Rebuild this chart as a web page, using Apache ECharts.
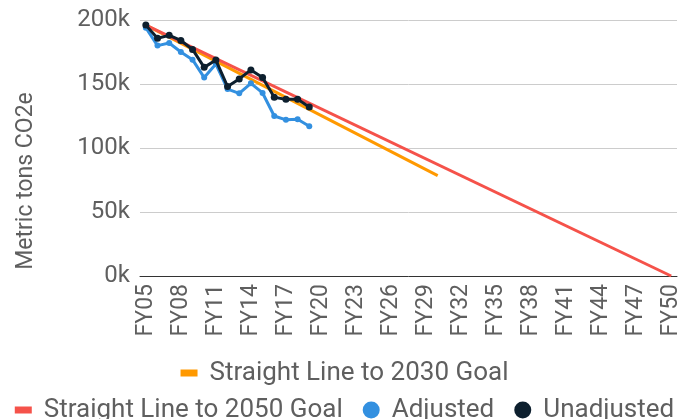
<!DOCTYPE html>
<html>
<head>
<meta charset="utf-8">
<script src="https://cdn.jsdelivr.net/npm/echarts@6/dist/echarts.min.js"></script>
<style>
  html, body { margin: 0; padding: 0; background: #fff; }
  #chart { width: 689px; height: 419px; }
</style>
</head>
<body>
<div id="chart"></div>
<script>
// 年份类目 FY05 - FY50
const categories = ['FY05','FY06','FY07','FY08','FY09','FY10','FY11','FY12','FY13','FY14',
    'FY15','FY16','FY17','FY18','FY19','FY20','FY21','FY22','FY23','FY24',
    'FY25','FY26','FY27','FY28','FY29','FY30','FY31','FY32','FY33','FY34',
    'FY35','FY36','FY37','FY38','FY39','FY40','FY41','FY42','FY43','FY44',
    'FY45','FY46','FY47','FY48','FY49','FY50'];

// 实测数据 FY05 - FY19
const adjusted = [194000, 180000, 182000, 175000, 169000, 155000, 165600, 146000,
    142700, 150500, 143000, 125000, 122000, 122400, 117000];
const unadjusted = [196000, 185700, 188000, 184000, 177000, 163000, 168700, 148000,
    154000, 161000, 155000, 139600, 138000, 138000, 132000];

// 目标直线：只给端点 [类目, 数值]
const goal2030 = [['FY05', 196000], ['FY30', 78400]];
const goal2050 = [['FY05', 196000], ['FY50', 0]];

const yTicks = [0, 50000, 100000, 150000, 200000];

// 端点放进类目数组，其余为空，用 connectNulls 连成直线
function endpoints(pts) {
    let arr = categories.map(() => null);
    pts.forEach((p) => { arr[categories.indexOf(p[0])] = p[1]; });
    return arr;
}

const txt = '#5f5f5f';
const font = 'Roboto';
// 细长方形图标（外面留出透明边界，保持和圆点同样的框）
const barIcon = 'path://M0,0 M17,17 M0,5 L17,5 L17,12 L0,12 Z';

let chart = echarts.init(document.getElementById('chart'), null, { renderer: 'canvas' });

let option = {
    animation: false,
    textStyle: { fontFamily: font },
    grid: { left: 140, right: 12, top: 20, bottom: 143, containLabel: false },
    // y 轴标题，单独放，方便对齐
    graphic: [
        {
            type: 'text',
            x: 26,
            y: 181,
            rotation: Math.PI / 2,
            style: {
                text: 'Metric tons CO2e',
                fill: txt,
                font: '23px Roboto',
                align: 'center',
                verticalAlign: 'middle'
            }
        }
    ],
    legend: [
        {
            data: [{ name: 'Straight Line to 2030 Goal', icon: barIcon }],
            left: 'center',
            top: 355,
            itemWidth: 17,
            itemHeight: 17,
            textStyle: { color: txt, fontSize: 26, fontFamily: font, padding: [0, 0, 0, 7] }
        },
        {
            data: [
                { name: 'Straight Line to 2050 Goal', icon: barIcon },
                { name: 'Adjusted', icon: 'circle' },
                { name: 'Unadjusted', icon: 'circle' }
            ],
            left: 'center',
            top: 392,
            itemGap: 20,
            itemWidth: 17,
            itemHeight: 17,
            textStyle: { color: txt, fontSize: 26, fontFamily: font, padding: [0, 0, 0, 7] }
        }
    ],
    xAxis: {
        type: 'category',
        data: categories,
        boundaryGap: true,
        axisLine: { lineStyle: { color: '#333', width: 1 } },
        axisTick: { show: false },
        axisLabel: {
            interval: 2,
            rotate: 90,
            color: txt,
            fontSize: 23,
            fontFamily: font,
            margin: 8
        },
        splitLine: { show: false }
    },
    yAxis: {
        type: 'value',
        min: yTicks[0],
        max: yTicks[yTicks.length - 1],
        interval: 50000,
        axisLine: { show: false },
        axisTick: { show: false },
        axisLabel: {
            color: txt,
            fontSize: 24,
            fontFamily: font,
            margin: 10,
            formatter: (v) => (v / 1000) + 'k'
        },
        splitLine: { lineStyle: { color: '#cccccc', width: 1 } }
    },
    series: [
        {
            name: 'Straight Line to 2030 Goal',
            type: 'line',
            data: endpoints(goal2030),
            connectNulls: true,
            showSymbol: false,
            symbol: 'none',
            itemStyle: { color: '#ff9900' },
            lineStyle: { color: '#ff9900', width: 3 },
            z: 2
        },
        {
            name: 'Straight Line to 2050 Goal',
            type: 'line',
            data: endpoints(goal2050),
            connectNulls: true,
            showSymbol: false,
            symbol: 'none',
            itemStyle: { color: '#f5524a' },
            lineStyle: { color: '#f5524a', width: 3 },
            z: 3
        },
        {
            name: 'Adjusted',
            type: 'line',
            data: adjusted,
            symbol: 'circle',
            symbolSize: 6,
            itemStyle: { color: '#3390e0' },
            lineStyle: { color: '#3390e0', width: 3 },
            z: 4
        },
        {
            name: 'Unadjusted',
            type: 'line',
            data: unadjusted,
            symbol: 'circle',
            symbolSize: 7,
            itemStyle: { color: '#0d1f2e' },
            lineStyle: { color: '#0d1f2e', width: 3 },
            z: 5
        }
    ]
};
chart.setOption(option);
</script>
</body>
</html>
